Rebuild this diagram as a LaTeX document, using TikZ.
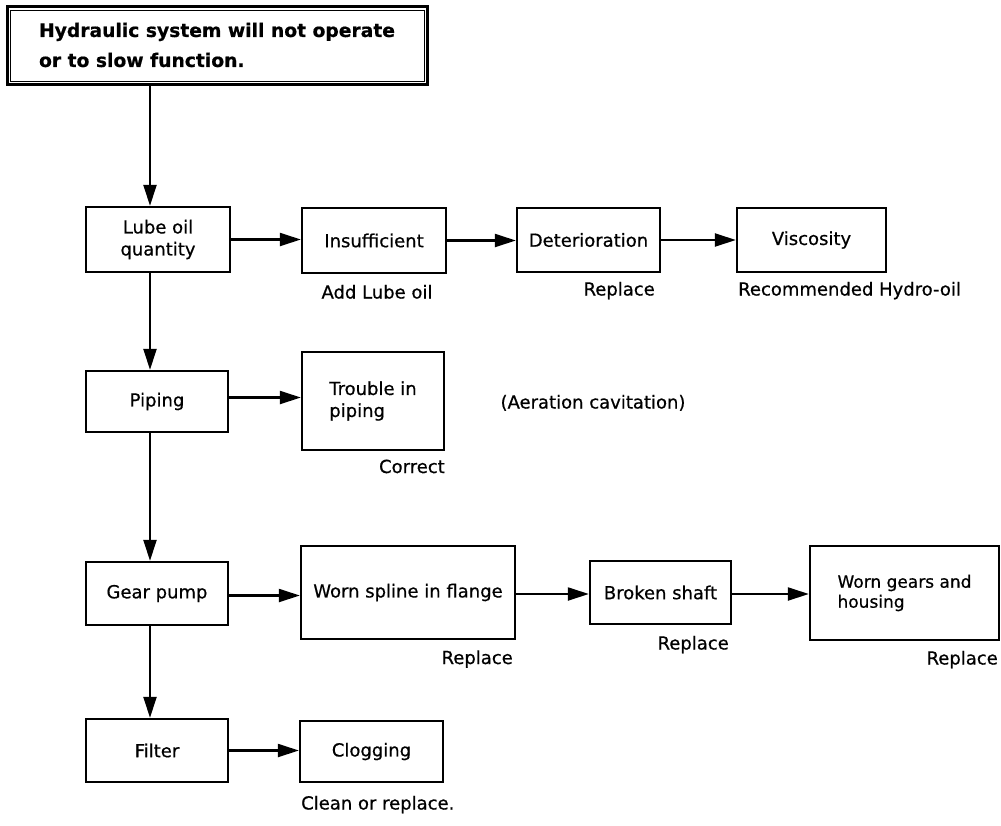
\documentclass[tikz,border=0pt]{standalone}
\usepackage{fontspec}
\setmainfont{DejaVu Sans}[FakeBold=0.6]
\usetikzlibrary{arrows.meta}
\begin{document}
\begin{tikzpicture}[x=1pt,y=-1pt,
  box/.style={draw, line width=2.3pt, inner sep=0pt, align=center,
    font=\fontsize{18}{22}\selectfont},
  flow/.style={line width=2.1pt, -{Triangle[length=21pt,width=13pt]}},
  note/.style={inner sep=0pt, font=\fontsize{18}{22}\selectfont}]
\useasboundingbox (0,0) rectangle (1001,825);
\fill[white] (0,0) rectangle (1001,825);

% heading with double frame
\node[box, line width=3pt, minimum width=420pt, minimum height=78pt, align=left,
  font=\bfseries\fontsize{18.7}{30}\selectfont] (title) at (217,45)
  {Hydraulic system will not operate\\or to slow function.};
\draw[line width=1.8pt] ([shift={(5,6)}]title.north west) rectangle ([shift={(-4,-4)}]title.south east);

% main column
\coordinate (spine) at (150,0);
\node[box, minimum width=144pt, minimum height=65pt] (lube)   at (158,239.5) {Lube oil\\quantity};
\node[box, minimum width=142pt, minimum height=61pt] (piping) at (157,401.5) {Piping};
\node[box, minimum width=142pt, minimum height=63pt] (gear)   at (157,593.5) {Gear pump};
\node[box, minimum width=142pt, minimum height=63pt] (filter) at (157,750.5) {Filter};

% lube oil branch
\node[box, minimum width=144pt, minimum height=65pt] (insuff) at (374,240.5) {Insufficient};
\node[box, minimum width=143pt, minimum height=64pt] (deter)  at (588.5,240) {Deterioration};
\node[box, minimum width=149pt, minimum height=64pt] (visc)   at (811.5,240) {Viscosity};

% piping branch
\node[box, minimum width=142pt, minimum height=98pt, align=left] (trouble) at (373,401) {Trouble in\\piping};

% gear pump branch
\node[box, minimum width=214pt, minimum height=93pt] (spline) at (408,592.5) {Worn spline in flange};
\node[box, minimum width=141pt, minimum height=63pt] (shaft)  at (660.5,592.5) {Broken shaft};
\node[box, minimum width=189pt, minimum height=94pt, align=left,
  font=\fontsize{17}{20}\selectfont] (gears) at (904.5,593) {Worn gears and\\housing};

% filter branch
\node[box, minimum width=143pt, minimum height=61pt] (clog) at (371.5,751.5) {Clogging};

% remedies
\node[note, anchor=base]      (addoil)  at (377,298.5) {Add Lube oil};
\node[note, anchor=base east] (repdet)  at (655,295.5) {Replace};
\node[note, anchor=base west] (hydro)   at (738,295.5) {Recommended Hydro-oil};
\node[note, anchor=base east] (correct) at (445,473)   {Correct};
\node[note, anchor=base]      (aerat)   at (593,408.5) {(Aeration cavitation)};
\node[note, anchor=base east] (repspl)  at (513,664)   {Replace};
\node[note, anchor=base east] (repsh)   at (729,649.5) {Replace};
\node[note, anchor=base east] (repgr)   at (998,664.5) {Replace};
\node[note, anchor=base west] (clean)   at (301,809.5) {Clean or replace.};

% connectors
\draw[flow] (title.south -| spine)  -- (lube.north -| spine);
\draw[flow] (lube.south -| spine)   -- (piping.north -| spine);
\draw[flow] (piping.south -| spine) -- (gear.north -| spine);
\draw[flow] (gear.south -| spine)   -- (filter.north -| spine);

\draw[flow] (lube.east)   -- (lube.east -| insuff.west);
\draw[flow] (insuff.east) -- (insuff.east -| deter.west);
\draw[flow] (deter.east)  -- (deter.east -| visc.west);
\draw[flow] ([yshift=4pt]piping.east) -- ([yshift=4pt]piping.east -| trouble.west);
\draw[flow] ([yshift=-2pt]gear.east) -- ([yshift=-2pt]gear.east -| spline.west);
\draw[flow] ([yshift=-1.5pt]spline.east) -- ([yshift=-1.5pt]spline.east -| shaft.west);
\draw[flow] ([yshift=-1.5pt]shaft.east)  -- ([yshift=-1.5pt]shaft.east -| gears.west);
\draw[flow] (filter.east) -- (filter.east -| clog.west);
\end{tikzpicture}
\end{document}
